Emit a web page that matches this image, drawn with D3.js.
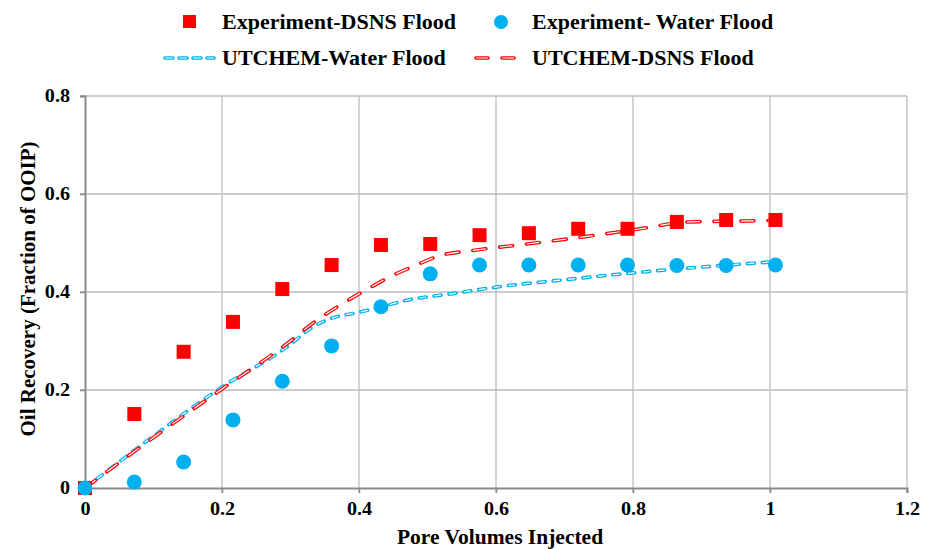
<!DOCTYPE html>
<html><head><meta charset="utf-8">
<script src="https://cdn.jsdelivr.net/npm/d3@7"></script>
<style>body{margin:0;background:#fff;}svg{display:block;}svg text{font-family:"Liberation Serif","Times New Roman",serif;font-weight:bold;fill:#000;}</style>
</head><body><svg id="c" width="931" height="549"></svg>
<script>
const pvExp = [0,0.072,0.144,0.216,0.288,0.36,0.432,0.504,0.576,0.648,0.72,0.792,0.864,0.936,1.008];
const expDSNS = [0,0.151,0.278,0.339,0.406,0.455,0.496,0.498,0.516,0.52,0.529,0.529,0.543,0.547,0.547];
const expWater = [0,0.012,0.053,0.139,0.218,0.29,0.37,0.437,0.455,0.455,0.455,0.455,0.454,0.454,0.455];
const pvSimWater = [0,0.06,0.2,0.295,0.333,0.353,0.401,0.432,0.46,0.543,0.6,0.7,0.8,0.9,1.0];
const simWater = [0,0.064,0.206,0.288,0.329,0.343,0.359,0.369,0.38,0.398,0.41,0.425,0.439,0.451,0.461];
const pvSimDSNS = [0,0.1,0.2,0.3,0.333,0.372,0.41,0.445,0.477,0.523,0.562,0.645,0.725,0.806,0.883,0.968,1.0];
const simDSNS = [0,0.103,0.202,0.3,0.337,0.373,0.404,0.431,0.451,0.476,0.484,0.498,0.512,0.528,0.543,0.545,0.546];
const xTicks = [0,0.2,0.4,0.6,0.8,1,1.2];
const yTicks = [0,0.2,0.4,0.6,0.8];
const RED = "#ff0000", BLUE = "#00b0f0";

const svg = d3.select("#c");
const x = d3.scaleLinear().domain([0,1.2]).range([85,907]);
const y = d3.scaleLinear().domain([0,0.8]).range([488,96]);

// grid
svg.append("g").selectAll("line").data(xTicks.slice(1)).join("line")
  .attr("x1",d=>x(d)).attr("x2",d=>x(d)).attr("y1",y(0.8)).attr("y2",y(0)+5)
  .attr("stroke","#bdbdbd").attr("stroke-width",1.3);
svg.append("g").selectAll("line").data(yTicks.slice(1)).join("line")
  .attr("x1",x(0)-5).attr("x2",x(1.2)).attr("y1",d=>y(d)).attr("y2",d=>y(d))
  .attr("stroke","#bdbdbd").attr("stroke-width",1.3);
// axes
const xa = svg.append("g").attr("transform",`translate(0,${y(0)})`)
  .call(d3.axisBottom(x).tickValues(xTicks).tickFormat(d3.format("~g")).tickSize(5).tickPadding(9));
const ya = svg.append("g").attr("transform",`translate(${x(0)},0)`)
  .call(d3.axisLeft(y).tickValues(yTicks).tickFormat(d3.format("~g")).tickSize(5).tickPadding(10));
[xa,ya].forEach(a=>{
  a.attr("font-family",null).attr("font-size",null);
  a.select(".domain").attr("stroke","#8a8a8a").attr("stroke-width",2);
  a.selectAll(".tick line").attr("stroke","#8a8a8a").attr("stroke-width",1.5);
  a.selectAll("text").style("font-size","18px");
  a.selectAll("text").each(function(){ const w=this.getComputedTextLength(); d3.select(this).attr("textLength",w*1.12).attr("lengthAdjust","spacingAndGlyphs"); });
});

function hollow(g, pts, color, dash, w){
  const line = d3.line().x(d=>x(d[0])).y(d=>y(d[1])).curve(d3.curveMonotoneX);
  g.append("path").attr("d",line(pts)).attr("fill","none").attr("stroke",color)
    .attr("stroke-width",w).attr("stroke-linecap","round").attr("stroke-dasharray",dash);
  g.append("path").attr("d",line(pts)).attr("fill","none").attr("stroke","#fff")
    .attr("stroke-width",w-2.4).attr("stroke-linecap","butt").attr("stroke-dasharray",dash);
}
const plot = svg.append("g");
hollow(plot, pvSimWater.map((d,i)=>[d,simWater[i]]), BLUE, "7 8", 3.6);
hollow(plot, pvSimDSNS.map((d,i)=>[d,simDSNS[i]]), RED, "13 14", 3.6);

plot.selectAll("rect.m").data(pvExp).join("rect").attr("class","m")
  .attr("x",(d)=>x(d)-7).attr("y",(d,i)=>y(expDSNS[i])-7).attr("width",14).attr("height",14).attr("fill",RED);
plot.selectAll("circle.m").data(pvExp).join("circle").attr("class","m")
  .attr("cx",d=>x(d)).attr("cy",(d,i)=>y(expWater[i])).attr("r",7.5).attr("fill",BLUE);

// axis titles
svg.append("text").attr("x",500).attr("y",544).attr("text-anchor","middle").style("font-size","21.5px").text("Pore Volumes Injected");
svg.append("text").attr("transform","translate(35,289) rotate(-90)").attr("text-anchor","middle").style("font-size","21px").text("Oil Recovery (Fraction of OOIP)");

// legend
const lg = svg.append("g");
lg.append("rect").attr("x",183).attr("y",15).attr("width",13).attr("height",13).attr("fill",RED);
lg.append("text").attr("x",222).attr("y",29).style("font-size","22px").text("Experiment-DSNS Flood");
lg.append("circle").attr("cx",501).attr("cy",22).attr("r",7).attr("fill",BLUE);
lg.append("text").attr("x",532).attr("y",29).style("font-size","22px").text("Experiment- Water Flood");
function legLine(x1,x2,yy,color,dash){
  lg.append("line").attr("x1",x1).attr("x2",x2).attr("y1",yy).attr("y2",yy).attr("stroke",color).attr("stroke-width",3.6).attr("stroke-linecap","round").attr("stroke-dasharray",dash);
  lg.append("line").attr("x1",x1).attr("x2",x2).attr("y1",yy).attr("y2",yy).attr("stroke","#fff").attr("stroke-width",1.2).attr("stroke-dasharray",dash);
}
legLine(165,214,58,BLUE,"8 6");
legLine(476,516,58,RED,"12 14");
lg.append("text").attr("x",222).attr("y",65).style("font-size","22px").text("UTCHEM-Water Flood");
lg.append("text").attr("x",532).attr("y",65).style("font-size","22px").text("UTCHEM-DSNS Flood");
</script></body></html>
